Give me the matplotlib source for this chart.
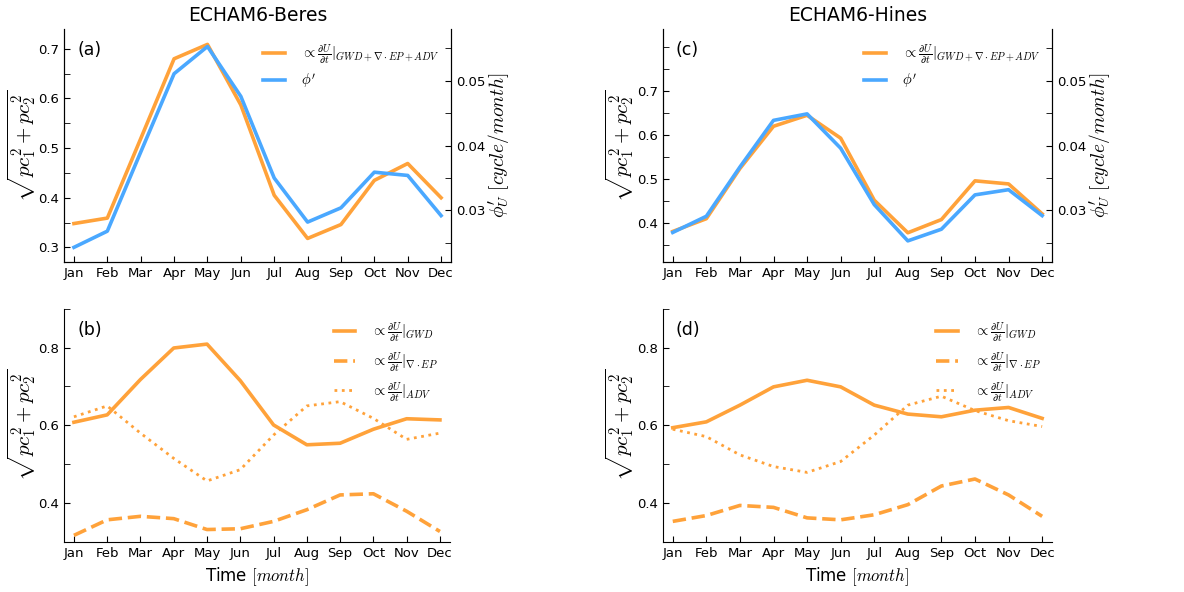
import matplotlib
matplotlib.use("Agg")
import matplotlib.pyplot as plt
from matplotlib.ticker import MultipleLocator

plt.rcParams['mathtext.fontset'] = 'cm'
plt.rcParams['font.family'] = 'DejaVu Sans'

months = ['Jan', 'Feb', 'Mar', 'Apr', 'May', 'Jun', 'Jul', 'Aug', 'Sep', 'Oct', 'Nov', 'Dec']

# top row: total tendency (left axis) and phi' (right axis, cycle/month)
beres_total = [0.348, 0.359, 0.519, 0.680, 0.709, 0.587, 0.405, 0.318, 0.346, 0.435, 0.469, 0.400]
beres_phi = [0.0243, 0.0268, 0.0390, 0.0511, 0.0553, 0.0476, 0.0350, 0.0282, 0.0304, 0.0359, 0.0354, 0.0292]
hines_total = [0.380, 0.409, 0.523, 0.619, 0.644, 0.592, 0.451, 0.377, 0.407, 0.495, 0.488, 0.420]
hines_phi = [0.0266, 0.0291, 0.0367, 0.0439, 0.0449, 0.0396, 0.0309, 0.0253, 0.0271, 0.0324, 0.0332, 0.0292]

# bottom row: individual terms
beres_gwd = [0.608, 0.627, 0.718, 0.799, 0.809, 0.715, 0.601, 0.550, 0.554, 0.590, 0.617, 0.614]
beres_ep = [0.317, 0.357, 0.366, 0.360, 0.332, 0.334, 0.353, 0.383, 0.421, 0.424, 0.379, 0.327]
beres_adv = [0.622, 0.650, 0.580, 0.515, 0.457, 0.486, 0.575, 0.650, 0.661, 0.618, 0.564, 0.580]
hines_gwd = [0.594, 0.609, 0.652, 0.699, 0.716, 0.699, 0.652, 0.629, 0.622, 0.639, 0.646, 0.618]
hines_ep = [0.353, 0.368, 0.394, 0.389, 0.362, 0.357, 0.370, 0.396, 0.444, 0.462, 0.421, 0.366]
hines_adv = [0.590, 0.571, 0.524, 0.494, 0.479, 0.507, 0.575, 0.652, 0.675, 0.638, 0.612, 0.597]

orange = '#FFA23A'
blue = '#4AA8FF'
ylab = r'$\sqrt{pc_1^2+pc_2^2}$'
x = list(range(12))
leg_kw = dict(loc='upper right', borderaxespad=0, frameon=False,
              fontsize=10.5, handlelength=1.5, handletextpad=1.1, labelspacing=0.4)


def style_axis(ax, ylim, major, minor, right=False):
    ax.set_xlim(-0.3, 11.3)
    ax.set_ylim(*ylim)
    ax.set_xticks(x)
    ax.set_xticklabels(months)
    ax.set_yticks(major)
    ax.yaxis.set_minor_locator(MultipleLocator(minor))
    ax.tick_params(which='both', direction='in', length=4, labelsize=9.5, top=False, right=False)
    ax.spines['top'].set_visible(False)
    ax.spines['right'].set_visible(right)
    ax.set_ylabel(ylab, fontsize=15)
    ax.yaxis.set_label_coords(-0.068, 0.5)


def top_panel(ax, total, phi, title, tag, major, ylim):
    l1, = ax.plot(x, total, color=orange, lw=2.6)
    ax2 = ax.twinx()
    l2, = ax2.plot(x, phi, color=blue, lw=2.6)
    style_axis(ax, ylim, major, 0.05, right=True)
    ax2.set_ylim(0.022, 0.058)
    ax2.set_yticks([0.03, 0.04, 0.05])
    ax2.yaxis.set_minor_locator(MultipleLocator(0.005))
    ax2.tick_params(which='both', direction='in', length=4, labelsize=9.5)
    ax2.spines['top'].set_visible(False)
    ax2.set_ylabel(r"$\phi_U'\ [cycle/month]$", fontsize=14)
    ax2.yaxis.set_label_coords(1.09, 0.5)
    ax.set_title(title, fontsize=13.5)
    ax.text(0.034, 0.91, tag, transform=ax.transAxes, fontsize=12.5, va='center')
    ax.legend([l1, l2], [r'$\propto \frac{\partial U}{\partial t}|_{GWD+\nabla\cdot EP+ADV}$', r"$\phi'$"],
              bbox_to_anchor=(0.985, 0.97), **leg_kw)


def bottom_panel(ax, gwd, ep, adv, tag):
    l1, = ax.plot(x, gwd, color=orange, lw=2.6, ls='-')
    l2, = ax.plot(x, ep, color=orange, lw=2.6, ls='--')
    l3, = ax.plot(x, adv, color=orange, lw=2.0, ls=':')
    style_axis(ax, (0.3, 0.9), [0.4, 0.6, 0.8], 0.1)
    ax.set_xlabel(r'Time $[month]$', fontsize=12)
    ax.text(0.034, 0.91, tag, transform=ax.transAxes, fontsize=12.5, va='center')
    ax.legend([l1, l2, l3],
              [r'$\propto \frac{\partial U}{\partial t}|_{GWD}$',
               r'$\propto \frac{\partial U}{\partial t}|_{\nabla\cdot EP}$',
               r'$\propto \frac{\partial U}{\partial t}|_{ADV}$'],
              bbox_to_anchor=(0.985, 0.975), **leg_kw)


fig = plt.figure(figsize=(11.84, 5.92), dpi=100)
ax_a = fig.add_axes([0.054, 0.557, 0.327, 0.394])
ax_b = fig.add_axes([0.054, 0.0845, 0.326, 0.394])
ax_c = fig.add_axes([0.5597, 0.557, 0.329, 0.394])
ax_d = fig.add_axes([0.5597, 0.0845, 0.329, 0.394])

top_panel(ax_a, beres_total, beres_phi, 'ECHAM6-Beres', '(a)', [0.3, 0.4, 0.5, 0.6, 0.7], (0.27, 0.74))
top_panel(ax_c, hines_total, hines_phi, 'ECHAM6-Hines', '(c)', [0.4, 0.5, 0.6, 0.7], (0.31, 0.84))
bottom_panel(ax_b, beres_gwd, beres_ep, beres_adv, '(b)')
bottom_panel(ax_d, hines_gwd, hines_ep, hines_adv, '(d)')

fig.savefig('out.png', dpi=100)
